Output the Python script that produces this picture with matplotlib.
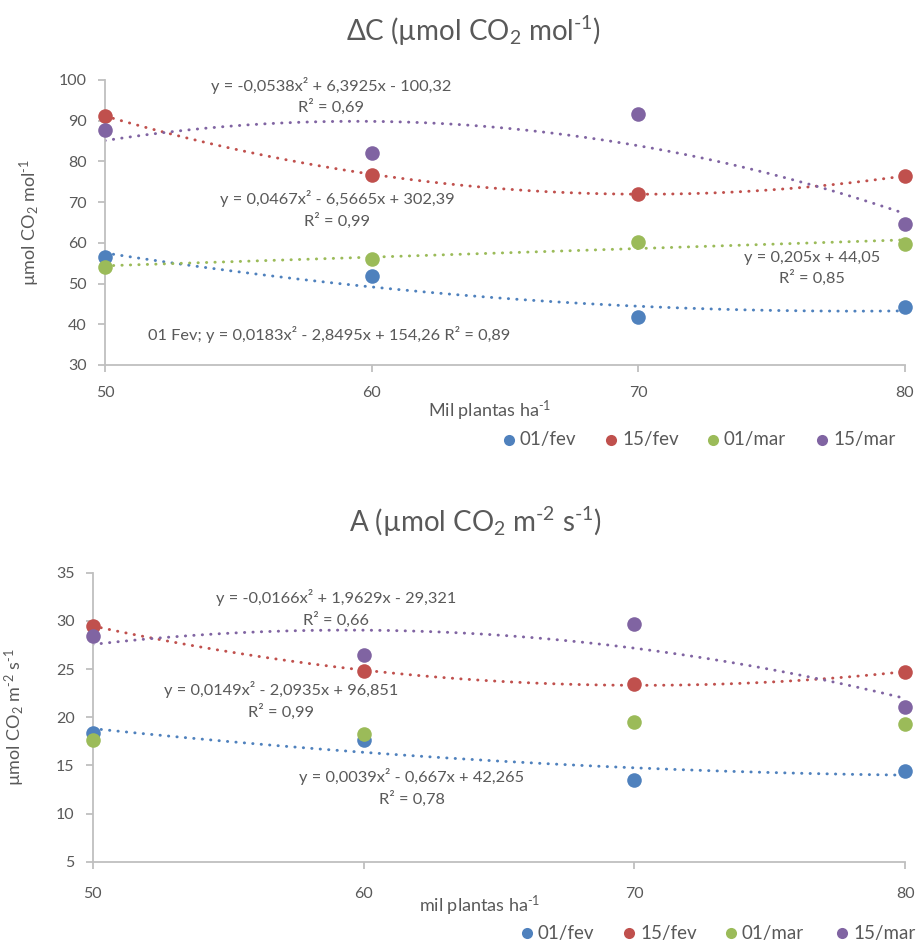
import numpy as np
import matplotlib
matplotlib.use("Agg")
import matplotlib.pyplot as plt
from matplotlib.lines import Line2D

plt.rcParams['font.family'] = ['Lato', 'DejaVu Sans']
plt.rcParams['mathtext.fontset'] = 'custom'
plt.rcParams['mathtext.rm'] = 'Lato'
plt.rcParams['mathtext.it'] = 'Lato:italic'
plt.rcParams['mathtext.default'] = 'regular'

TXT = '#595959'
AXC = '#BFBFBF'

# ---------------- data ----------------
x_vals = [50, 60, 70, 80]
series = ['01/fev', '15/fev', '01/mar', '15/mar']
colors = ['#4F81BD', '#C0504D', '#9BBB59', '#8064A2']

dc_fev01 = [56.6, 51.9, 41.7, 44.2]
dc_fev15 = [91.2, 76.7, 72.1, 76.4]
dc_mar01 = [54.1, 56.1, 60.2, 59.8]
dc_mar15 = [87.7, 82.1, 91.6, 64.6]

a_fev01 = [18.4, 17.6, 13.5, 14.4]
a_fev15 = [29.5, 24.8, 23.4, 24.7]
a_mar01 = [17.6, 18.3, 19.5, 19.3]
a_mar15 = [28.4, 26.5, 29.7, 21.1]

# trendline polynomial degrees (None = no trendline)
dc_degrees = [2, 2, 1, 2]
a_degrees = [2, 2, None, 2]

dc_eqs = [
    ("01 Fev; y = 0,0183x² - 2,8495x + 154,26 R² = 0,89", 58.4, 37.4),
    ("y = 0,0467x² - 6,5665x + 302,39\nR² = 0,99", 58.7, 68.2),
    ("y = 0,205x + 44,05\nR² = 0,85", 76.5, 53.7),
    ("y = -0,0538x² + 6,3925x - 100,32\nR² = 0,69", 58.47, 96.1),
]
a_eqs = [
    ("y = 0,0039x² - 0,667x + 42,265\nR² = 0,78", 61.79, 12.7),
    ("y = 0,0149x² - 2,0935x + 96,851\nR² = 0,99", 56.95, 21.73),
    ("y = -0,0166x² + 1,9629x - 29,321\nR² = 0,66", 58.98, 31.28),
]

W, H = 918, 941
fig = plt.figure(figsize=(W / 100, H / 100), dpi=100)


def style_axes(ax, ylim, yticks, xpad):
    ax.set_xlim(50, 80)
    ax.set_ylim(*ylim)
    ax.set_xticks(x_vals)
    ax.set_yticks(yticks)
    for s in ['top', 'right']:
        ax.spines[s].set_visible(False)
    for s in ['left', 'bottom']:
        ax.spines[s].set_color(AXC)
        ax.spines[s].set_linewidth(1.3)
    ax.tick_params(axis='both', colors=AXC, labelcolor=TXT, labelsize=11.5,
                   length=5, width=1.3)
    ax.tick_params(axis='x', pad=xpad)
    ax.tick_params(axis='y', pad=8)
    ax.patch.set_alpha(0)


def draw(ax, data, degrees, eqs):
    xs = np.array(x_vals, dtype=float)
    xf = np.linspace(50, 80, 200)
    for vals, col, deg in zip(data, colors, degrees):
        if deg is not None:
            coef = np.polyfit(xs, np.array(vals), deg)
            ax.plot(xf, np.polyval(coef, xf), color=col, lw=2.1,
                    linestyle=(0, (0.1, 2.8)), dash_capstyle='round', zorder=2)
    for vals, col in zip(data, colors):
        ax.scatter(x_vals, vals, s=110, color=col, zorder=3, clip_on=False,
                   linewidths=0)
    for txt, ex, ey in eqs:
        ax.text(ex, ey, txt, ha='center', va='center', color=TXT,
                fontsize=11.8, linespacing=1.4, zorder=4)


def legend(ypx, xpx_list):
    for name, col, xp in zip(series, colors, xpx_list):
        fig.add_artist(Line2D([xp / W], [1 - ypx / H], transform=fig.transFigure,
                              marker='o', markersize=8, color=col,
                              markeredgewidth=0, linestyle='none'))
        fig.text((xp + 11) / W, 1 - ypx / H, name, ha='left', va='center',
                 color=TXT, fontsize=13.5)


SUP1 = r'$^{\text{-1}}$'
SUP2 = r'$^{\text{-2}}$'

# -------- top chart --------
ax1 = fig.add_axes([105 / W, 1 - 365 / H, 800 / W, 285 / H])
style_axes(ax1, (30, 100), range(30, 101, 10), 10)
draw(ax1, [dc_fev01, dc_fev15, dc_mar01, dc_mar15], dc_degrees, dc_eqs)
ax1.set_ylabel('µmol CO$_2$ mol' + SUP1, color=TXT, fontsize=13)
ax1.yaxis.set_label_coords(-0.079, 0.5)
fig.text(473 / W, 1 - 31 / H, 'ΔC (µmol CO$_2$ mol' + SUP1 + ')', ha='center',
         va='center', color=TXT, fontsize=20)
fig.text(490 / W, 1 - 411 / H, 'Mil plantas ha' + SUP1, ha='center',
         va='center', color=TXT, fontsize=13)
legend(440, [509, 611, 713, 822])

# -------- bottom chart --------
ax2 = fig.add_axes([92.7 / W, 1 - 861.7 / H, 812.6 / W, 289 / H])
style_axes(ax2, (5, 35), range(5, 36, 5), 13)
draw(ax2, [a_fev01, a_fev15, a_mar01, a_mar15], a_degrees, a_eqs)
ax2.set_ylabel('µmol CO$_2$ m' + SUP2 + ' s' + SUP1, color=TXT, fontsize=13)
ax2.yaxis.set_label_coords(-0.081, 0.5)
fig.text(475 / W, 1 - 522 / H, 'A (µmol CO$_2$ m' + SUP2 + ' s' + SUP1 + ')',
         ha='center', va='center', color=TXT, fontsize=20)
fig.text(480 / W, 1 - 906 / H, 'mil plantas ha' + SUP1, ha='center',
         va='center', color=TXT, fontsize=13)
legend(933, [527, 629, 731, 842])

fig.savefig('out.png', dpi=100)
